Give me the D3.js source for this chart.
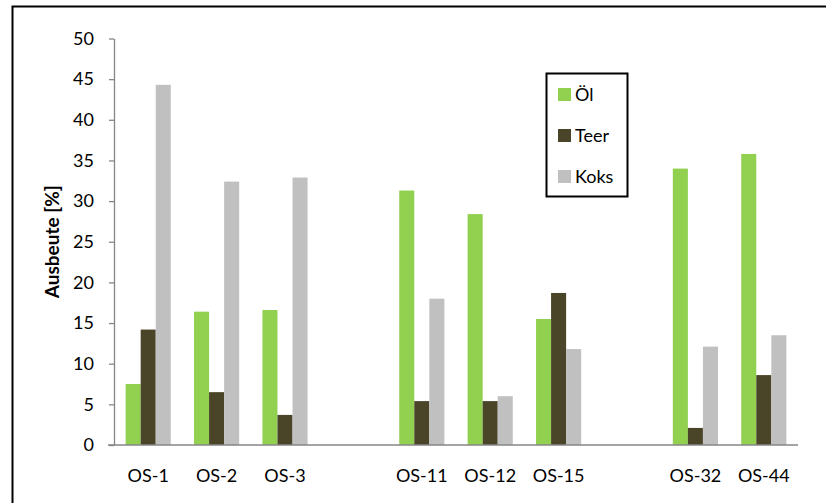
<!DOCTYPE html>
<html>
<head>
<meta charset="utf-8">
<script src="https://cdn.jsdelivr.net/npm/d3@7"></script>
<style>
  html, body { margin: 0; padding: 0; background: #fff; }
  svg { display: block; }
</style>
</head>
<body>
<div id="chart"></div>
<script>
// ---- data ----
const slots = ["OS-1", "OS-2", "OS-3", null, "OS-11", "OS-12", "OS-15", null, "OS-32", "OS-44"];
const seriesNames = ["Öl", "Teer", "Koks"];
const seriesColors = ["#92d050", "#4a4529", "#c0c0c0"];
const oel  = [7.5, 16.4, 16.6, null, 31.3, 28.4, 15.5, null, 34.0, 35.8];
const teer = [14.2, 6.5, 3.7, null, 5.4, 5.4, 18.7, null, 2.1, 8.6];
const koks = [44.3, 32.4, 32.9, null, 18.0, 6.0, 11.8, null, 12.1, 13.5];
const yTicks = [0, 5, 10, 15, 20, 25, 30, 35, 40, 45, 50];
const yLabel = "Ausbeute [%]";

const W = 826, H = 503;
const mLeft = 114, mRight = 798, mTop = 38.5, mBottom = 445;

const svg = d3.select("#chart").append("svg")
  .attr("width", W).attr("height", H);

// outer frame (only top and left visible in reference)
svg.append("rect")
  .attr("x", 12.5).attr("y", 6.5)
  .attr("width", 840).attr("height", 520)
  .attr("fill", "none").attr("stroke", "#000").attr("stroke-width", 2);

const x = d3.scaleBand()
  .domain(d3.range(slots.length))
  .range([mLeft, mRight])
  .paddingInner(0.34)
  .paddingOuter(0.17);

const xs = d3.scaleBand()
  .domain(d3.range(seriesNames.length))
  .range([0, x.bandwidth()]);

const y = d3.scaleLinear().domain([0, 50]).range([mBottom, mTop]);

const font = "Lato, 'Open Sans', sans-serif";

// bars
const seriesValues = [oel, teer, koks];
seriesValues.forEach((vals, si) => {
  svg.append("g").selectAll("rect")
    .data(vals.map((v, i) => ({ v, i })).filter(d => d.v != null))
    .join("rect")
    .attr("x", d => x(d.i) + xs(si))
    .attr("width", xs.bandwidth())
    .attr("y", d => y(d.v))
    .attr("height", d => y(0) - y(d.v))
    .attr("fill", seriesColors[si]);
});

// y axis
const yAxis = d3.axisLeft(y).tickValues(yTicks).tickSize(5).tickPadding(15).tickSizeOuter(0);
const gy = svg.append("g").attr("transform", `translate(${mLeft},0)`).call(yAxis);
gy.select(".domain").attr("stroke", "#868686").attr("stroke-width", 1.3);
gy.selectAll(".tick line").attr("stroke", "#868686").attr("stroke-width", 1.3);
gy.selectAll(".tick text").attr("font-family", font).attr("font-size", 18).attr("fill", "#000");

// x axis
const xAxis = d3.axisBottom(x).tickSize(0).tickPadding(24).tickSizeOuter(0)
  .tickFormat(i => slots[i] || "");
const gx = svg.append("g").attr("transform", `translate(0,${mBottom})`).call(xAxis);
gx.select(".domain").attr("stroke", "#868686").attr("stroke-width", 1.3)
  .attr("d", `M${mLeft - 6},0H${mRight}`);
gx.selectAll(".tick text").attr("font-family", font).attr("font-size", 18).attr("fill", "#000");

// y label
svg.append("text")
  .attr("transform", `translate(59,${(mTop + mBottom) / 2}) rotate(-90)`)
  .attr("text-anchor", "middle")
  .attr("font-family", font).attr("font-weight", "bold").attr("font-size", 19)
  .text(yLabel);

// legend
const lg = svg.append("g");
lg.append("rect").attr("x", 546.5).attr("y", 73.5).attr("width", 81).attr("height", 123)
  .attr("fill", "#fff").attr("stroke", "#000").attr("stroke-width", 2);
seriesNames.forEach((n, i) => {
  const cy = 94.5 + i * 41;
  lg.append("rect").attr("x", 558).attr("y", cy - 6.5).attr("width", 13).attr("height", 13)
    .attr("fill", seriesColors[i]);
  lg.append("text").attr("x", 575).attr("y", cy).attr("dy", "0.36em")
    .attr("font-family", font).attr("font-size", 18).text(n);
});
</script>
</body>
</html>
